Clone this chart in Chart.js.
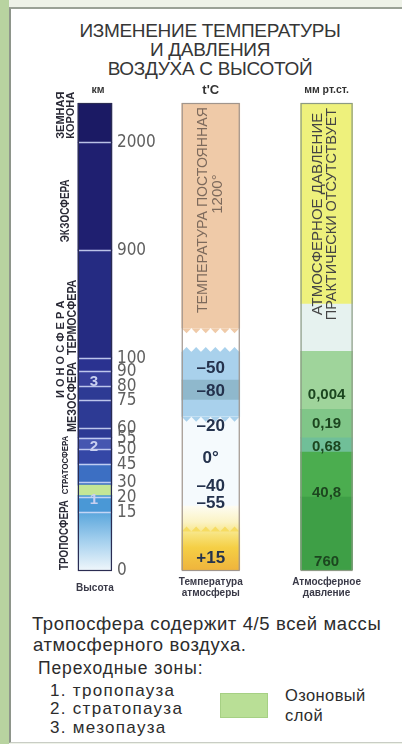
<!DOCTYPE html>
<html lang="ru">
<head>
<meta charset="utf-8">
<title>Изменение температуры и давления воздуха с высотой</title>
<script src="https://cdn.jsdelivr.net/npm/chart.js@4.4.1/dist/chart.umd.min.js"></script>
<style>
  html, body { margin: 0; padding: 0; }
  body {
    width: 402px; height: 744px; position: relative; overflow: hidden;
    background: #eef2e8; color: #2e2e2e;
    font-family: "Liberation Sans", Arial, sans-serif;
  }
  .strip { position: absolute; left: 0; top: 0; width: 9px; height: 744px; background: #b8d3a0; }
  .card {
    position: absolute; left: 9px; top: 7px; width: 395px; height: 733px;
    background: #fff; border-left: 2px solid #8e958b; border-top: 2px solid #9aa196;
    border-bottom: 1px solid #c9cdc5;
  }
  .t { position: absolute; white-space: nowrap; line-height: 1; }
  .title { left: 0; width: 420px; text-align: center; font-size: 19px; letter-spacing: -0.3px; color: #363636; }
  .note { font-size: 18.5px; letter-spacing: 0.6px; color: #2c2c2c; }
  .sm { font-size: 17.5px; letter-spacing: 0.9px; color: #2c2c2c; }
  .li { font-size: 17px; letter-spacing: 1.3px; color: #2c2c2c; }
  .oz { font-size: 16.5px; letter-spacing: 0.4px; color: #2c2c2c; }
  .ozone { position: absolute; left: 220px; top: 693px; width: 46px; height: 23px; background: #b9df96; border: 1px solid #a6d084; }
  canvas { position: absolute; left: 0; top: 0; z-index: 2; }
</style>
</head>
<body>
<div class="strip"></div>
<div class="card"></div>

<div class="t title" style="top:21px">ИЗМЕНЕНИЕ ТЕМПЕРАТУРЫ</div>
<div class="t title" style="top:40px">И ДАВЛЕНИЯ</div>
<div class="t title" style="top:59px">ВОЗДУХА С ВЫСОТОЙ</div>

<div class="t note" style="left:32px; top:615px">Тропосфера содержит 4/5 всей массы</div>
<div class="t note" style="left:33px; top:636px">атмосферного воздуха.</div>
<div class="t sm" style="left:38px; top:660px">Переходные зоны:</div>
<div class="t li" style="left:50px; top:682px">1. тропопауза</div>
<div class="t li" style="left:50px; top:700px">2. стратопауза</div>
<div class="t li" style="left:50px; top:719px">3. мезопауза</div>
<div class="ozone"></div>
<div class="t oz" style="left:285px; top:687px">Озоновый</div>
<div class="t oz" style="left:285px; top:707px">слой</div>

<canvas id="chart" width="402" height="744"></canvas>

<script>
// Колонки
const columns = ['Высота', 'Температура атмосферы', 'Атмосферное давление'];
const columnUnits = ['км', "t'C", 'мм рт.ст.'];
const columnCaptions = [['Высота'], ['Температура', 'атмосферы'], ['Атмосферное', 'давление']];

// Шкала высот (нелинейная, как на рисунке)
const kmTicks = [0, 15, 20, 30, 45, 50, 55, 60, 75, 80, 90, 100, 900, 2000];
const kmTickShare = [0, 0.124, 0.156, 0.188, 0.227, 0.259, 0.283, 0.304, 0.364, 0.394, 0.426, 0.454, 0.685, 0.916];
const kmTop = 2400;

// Слои по высоте, км
const heightBands = [[0, 15], [15, 21], [21, 28], [28, 45], [45, 50], [50, 55], [55, 80], [80, 90], [90, 100], [100, 900], [900, 2000], [2000, 2400]];
const layerNames = ['ТРОПОСФЕРА', 'СТРАТОСФЕРА', 'МЕЗОСФЕРА', 'ТЕРМОСФЕРА', 'И О Н О С Ф Е Р А', 'ЭКЗОСФЕРА', 'ЗЕМНАЯ', 'КОРОНА'];
const layerKm = [[0, 19], [22, 56], [58, 97], [122, 680], [52, 870], [980, 1620], [2030, 2520], [2030, 2520]];
const pauseNames = ['1', '2', '3'];
const pauseKm = [19, 51, 83];

// Температура
const tempBands = [[0, 17], [17, 66], [66, 75], [75, 84], [84, 144], [144, 320], [320, 2400]];
const tempValues = ['+15', '–55', '–40', '0°', '–20', '–80', '–50'];
const tempKm = [3, 18, 27, 47, 61, 78, 92];

// Давление
const pressBands = [[0, 20], [20, 49], [49, 55], [55, 70], [70, 150], [150, 500], [500, 2400]];
const pressValues = ['760', '40,8', '0,68', '0,19', '0,004'];
const pressKm = [2, 23, 51, 62, 77];

// ---- оформление ----
const colWidths = [34, 58, 52];
const heightColors = ['tropo', '#4a98d6', '#c4e696', '#3c6fc3', '#3447a6', '#4656b0', '#2d3a94', '#373f9c', '#2a3290', '#252b82', '#1f1f70', '#1b1a64'];
const tempColors = ['warm', '#f5fafd', '#a9d1ec', '#8fb8cc', '#a9d1ec', '#ffffff', '#efcaa8'];
const pressColors = ['#3e9f46', '#4bad4f', '#70bf98', '#80c688', '#9fd49b', '#e6f2ef', '#eef17c'];

function kmToShare(v) {
  const stops = kmTicks.concat([kmTop]);
  const shares = kmTickShare.concat([1]);
  if (v <= 0) return 0;
  for (let i = 1; i < stops.length; i++) {
    if (v <= stops[i]) {
      const t = (v - stops[i - 1]) / (stops[i] - stops[i - 1]);
      return shares[i - 1] + t * (shares[i] - shares[i - 1]);
    }
  }
  const n = stops.length - 1;
  return 1 + (v - stops[n]) / (stops[n] - stops[n - 1]) * (shares[n] - shares[n - 1]);
}

function shareToKm(s) {
  const stops = kmTicks.concat([kmTop]);
  const shares = kmTickShare.concat([1]);
  for (let i = 1; i < shares.length; i++) {
    if (s <= shares[i]) {
      const t = (s - shares[i - 1]) / (shares[i] - shares[i - 1]);
      return stops[i - 1] + t * (stops[i] - stops[i - 1]);
    }
  }
  return kmTop;
}

// нелинейная ось высот
class AltitudeScale extends Chart.LinearScale {
  getPixelForValue(value) {
    if (value === null || isNaN(value)) return NaN;
    return this.getPixelForDecimal(kmToShare(value));
  }
  getValueForPixel(pixel) {
    return shareToKm(this.getDecimalForPixel(pixel));
  }
}
AltitudeScale.id = 'altitude';
AltitudeScale.defaults = Chart.LinearScale.defaults;
Chart.register(AltitudeScale);

function gradientFill(kind) {
  return (c) => {
    const chart = c.chart;
    if (!chart.chartArea) return '#9cc9ea';
    const y = chart.scales.y;
    if (kind === 'tropo') {
      const g = chart.ctx.createLinearGradient(0, y.getPixelForValue(0), 0, y.getPixelForValue(15));
      g.addColorStop(0, '#eef6fb');
      g.addColorStop(0.5, '#a5d0ee');
      g.addColorStop(1, '#5aa6dc');
      return g;
    }
    const g = chart.ctx.createLinearGradient(0, y.getPixelForValue(0), 0, y.getPixelForValue(17));
    g.addColorStop(0, '#efb43c');
    g.addColorStop(0.35, '#f5cf45');
    g.addColorStop(0.55, '#f7e27a');
    g.addColorStop(0.75, '#fbf3c4');
    g.addColorStop(1, '#fdfcf2');
    return g;
  };
}

function bandSets(col, bands, colors) {
  return bands.map((b, i) => ({
    data: [{ x: columns[col], y: b }],
    backgroundColor: colors[i].startsWith('#') ? colors[i] : gradientFill(colors[i]),
    barThickness: colWidths[col],
    borderWidth: 0,
    grouped: false
  }));
}

function vText(ctx, text, x, y, font, color, maxLen) {
  ctx.save();
  ctx.translate(x, y);
  ctx.rotate(-Math.PI / 2);
  ctx.font = font;
  ctx.fillStyle = color;
  ctx.textAlign = 'center';
  ctx.textBaseline = 'middle';
  if (maxLen) ctx.fillText(text, 0, 0, maxLen); else ctx.fillText(text, 0, 0);
  ctx.restore();
}

// зубчатая граница между полосами
function zigzag(ctx, x0, x1, yb, dir, color) {
  const step = 9.6, h = 5;
  ctx.fillStyle = color;
  ctx.beginPath();
  ctx.moveTo(x0, yb);
  for (let xx = x0; xx < x1 - 0.1; xx += step) {
    ctx.lineTo(Math.min(xx + step / 2, x1), yb + dir * h);
    ctx.lineTo(Math.min(xx + step, x1), yb);
  }
  ctx.closePath();
  ctx.fill();
}

const overlay = {
  id: 'overlay',
  afterDatasetsDraw(chart) {
    const { ctx, scales: { x, y } } = chart;
    const cx = i => x.getPixelForValue(i);
    const left = i => cx(i) - colWidths[i] / 2;
    const right = i => cx(i) + colWidths[i] / 2;
    const yTop = y.getPixelForValue(kmTop);
    const yBot = y.getPixelForValue(0);
    ctx.save();

    // зубцы в колонке температуры
    zigzag(ctx, left(1), right(1), y.getPixelForValue(tempBands[6][0]), 1, tempColors[6]);
    zigzag(ctx, left(1), right(1), y.getPixelForValue(tempBands[4][1]), -1, tempColors[4]);
    zigzag(ctx, left(1), right(1), y.getPixelForValue(tempBands[2][0]), 1, tempColors[2]);
    zigzag(ctx, left(1), right(1), y.getPixelForValue(10), -1, '#f6dc62');

    // белые риски на шкале высот
    ctx.strokeStyle = 'rgba(214,222,250,0.85)';
    ctx.lineWidth = 1.5;
    kmTicks.forEach(v => {
      if (!v) return;
      const py = Math.round(y.getPixelForValue(v)) + 0.5;
      ctx.beginPath(); ctx.moveTo(left(0), py); ctx.lineTo(right(0), py); ctx.stroke();
    });

    // рамки колонок
    ['#2b2c52', '#a0958c', '#8c9a84'].forEach((c, i) => {
      ctx.strokeStyle = c; ctx.lineWidth = 1.2;
      ctx.strokeRect(left(i) + 0.5, yTop + 0.5, colWidths[i] - 1, yBot - yTop);
    });

    // подписи шкалы
    ctx.font = '17px "Liberation Sans Narrow", "DejaVu Sans Condensed", sans-serif';
    ctx.fillStyle = '#5f5f5f';
    ctx.textAlign = 'left';
    ctx.textBaseline = 'middle';
    kmTicks.forEach(v => ctx.fillText(String(v), right(0) + 5, y.getPixelForValue(v) + 0.5));

    // переходные зоны
    ctx.font = 'bold 15px "Liberation Sans", sans-serif';
    ctx.fillStyle = '#c9d0f0';
    ctx.textAlign = 'center';
    pauseNames.forEach((t, i) => ctx.fillText(t, cx(0) - 1, y.getPixelForValue(pauseKm[i])));

    // температура
    ctx.font = 'bold 17px "Liberation Sans", sans-serif';
    ctx.fillStyle = '#24324d';
    tempValues.forEach((t, i) => ctx.fillText(t, cx(1), y.getPixelForValue(tempKm[i])));

    // давление
    ctx.font = 'bold 15px "Liberation Sans", sans-serif';
    ctx.fillStyle = '#1c461f';
    pressValues.forEach((t, i) => ctx.fillText(t, cx(2), y.getPixelForValue(pressKm[i])));

    // заголовки и подписи колонок
    ctx.fillStyle = '#333';
    columnUnits.forEach((u, i) => {
      ctx.font = i === 1 ? 'bold 13px "Liberation Sans", sans-serif' : 'bold 10.5px "Liberation Sans", sans-serif';
      ctx.fillText(u, cx(i) + (i === 0 ? 3 : 0), yTop - 13);
    });
    ctx.font = 'bold 10px "Liberation Sans", sans-serif';
    ctx.fillStyle = '#3a3a48';
    columnCaptions.forEach((lines, i) => {
      lines.forEach((l, k) => {
        const off = lines.length === 1 ? 18 : 12 + k * 11;
        ctx.fillText(l, cx(i), yBot + off);
      });
    });

    // надписи в колонках
    const tSpan = [433, 2359], pSpan = [380, 2350];
    const tMid = (y.getPixelForValue(tSpan[0]) + y.getPixelForValue(tSpan[1])) / 2;
    const tLen = y.getPixelForValue(tSpan[0]) - y.getPixelForValue(tSpan[1]);
    vText(ctx, 'ТЕМПЕРАТУРА ПОСТОЯННАЯ', cx(1) - 8, tMid, '15px "Liberation Sans Narrow", sans-serif', '#7d6a5c', tLen);
    vText(ctx, '1200°', cx(1) + 7, tMid - 16, '15px "Liberation Sans Narrow", sans-serif', '#7d6a5c');
    const pMid = (y.getPixelForValue(pSpan[0]) + y.getPixelForValue(pSpan[1])) / 2;
    const pLen = y.getPixelForValue(pSpan[0]) - y.getPixelForValue(pSpan[1]);
    vText(ctx, 'АТМОСФЕРНОЕ ДАВЛЕНИЕ', cx(2) - 9, pMid, '15px "Liberation Sans Narrow", sans-serif', '#444', pLen);
    vText(ctx, 'ПРАКТИЧЕСКИ ОТСУТСТВУЕТ', cx(2) + 5, pMid, '15px "Liberation Sans Narrow", sans-serif', '#444', pLen);

    // названия слоёв атмосферы
    const layerDx = [-13, -13, -5, -5, -17, -12, -17, -7];
    const layerFont = ['bold 12px', 'bold 9.5px', 'bold 12px', 'bold 12px', 'bold 11px', 'bold 12.5px', 'bold 11px', 'bold 11px'];
    layerNames.forEach((name, i) => {
      const a = y.getPixelForValue(layerKm[i][0]);
      const b = y.getPixelForValue(layerKm[i][1]);
      vText(ctx, name, left(0) + layerDx[i], (a + b) / 2, layerFont[i] + ' "Liberation Sans", sans-serif', '#2a2a36', a - b);
    });

    ctx.restore();
  }
};

new Chart(document.getElementById('chart'), {
  type: 'bar',
  data: {
    labels: columns,
    datasets: [
      ...bandSets(0, heightBands, heightColors),
      ...bandSets(1, tempBands, tempColors),
      ...bandSets(2, pressBands, pressColors)
    ]
  },
  options: {
    responsive: false,
    animation: false,
    layout: { padding: { left: 37, right: 17.5, top: 103, bottom: 174 } },
    scales: {
      x: { type: 'category', display: false, offset: true },
      y: { type: 'altitude', min: 0, max: kmTop, display: false }
    },
    plugins: { legend: { display: false }, tooltip: { enabled: false } }
  },
  plugins: [overlay]
});
</script>
</body>
</html>
